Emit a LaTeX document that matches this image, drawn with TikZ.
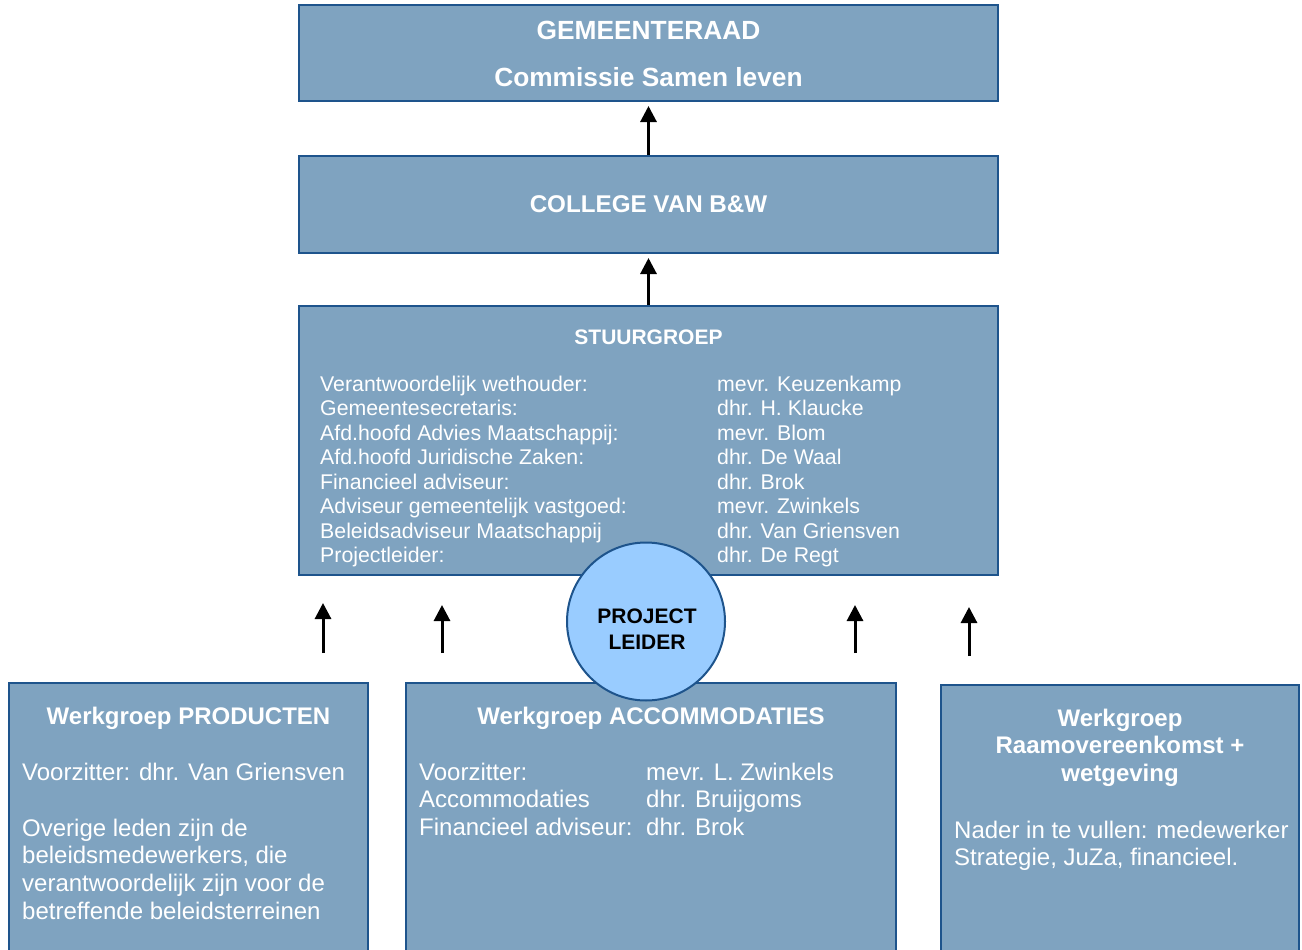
\documentclass[tikz,border=0pt]{standalone}
\usepackage{fontspec}
\setmainfont{Liberation Sans}
\usetikzlibrary{arrows.meta}
\definecolor{boxfill}{RGB}{127,163,192}
\definecolor{boxline}{RGB}{30,84,140}
\definecolor{leiderfill}{RGB}{153,204,255}
\begin{document}
\begin{tikzpicture}[x=1pt,y=-1pt,
  box/.style={draw=boxline,line width=2pt,fill=boxfill,inner sep=0pt},
  txt/.style={text=white,inner sep=0pt,anchor=base},
  lft/.style={text=white,inner sep=0pt,anchor=base west,font=\fontsize{24}{28}\selectfont},
  sg/.style={text=white,inner sep=0pt,anchor=base west,font=\fontsize{21.3}{24.5}\selectfont},
  up/.style={line width=3pt,-{Triangle[length=16pt,width=16pt]}}]
\useasboundingbox (0,0) rectangle (1302,950);
\clip (0,0) rectangle (1302,950);
% boxes
\node[box,minimum width=699pt,minimum height=96pt] (raad) at (648.5,53) {};
\node[box,minimum width=699pt,minimum height=97pt] (college) at (648.5,204.5) {};
\node[box,minimum width=699pt,minimum height=269pt] (stuur) at (648.5,440.5) {};
\node[box,minimum width=359pt,minimum height=277pt] (prod) at (188.5,821.5) {};
\node[box,minimum width=490pt,minimum height=277pt] (acco) at (651,821.5) {};
\node[box,minimum width=358pt,minimum height=275pt] (raam) at (1120,822.5) {};
% arrows
\draw[up,shorten >=4pt] (college.north) -- (raad.south);
\draw[up,shorten >=4pt] (stuur.north) -- (college.south);
\coordinate (p1) at (323,653);
\coordinate (q1) at (323,603);
\coordinate (p2) at (442,653);
\coordinate (q2) at (442,605);
\coordinate (p3) at (855,653);
\coordinate (q3) at (855,605);
\coordinate (p4) at (969,656);
\coordinate (q4) at (969,607);
\draw[up] (p1) -- (q1);
\draw[up] (p2) -- (q2);
\draw[up] (p3) -- (q3);
\draw[up] (p4) -- (q4);
% gemeenteraad, college
\node[txt,font=\bfseries\fontsize{26.3}{30}\selectfont] (raad1) at (648.5,40) {GEMEENTERAAD};
\node[txt,font=\bfseries\fontsize{26.3}{30}\selectfont] (raad2) at (648.5,87) {Commissie Samen leven};
\node[txt,font=\bfseries\fontsize{24.2}{28}\selectfont] (coll1) at (648.5,212.5) {COLLEGE VAN B\&W};
% stuurgroep
\node[txt,font=\bfseries\fontsize{21}{25}\selectfont] (sgtitle) at (648.5,344) {STUURGROEP};
\node[sg] (sgl1) at (320,391) {Verantwoordelijk wethouder:};
\node[sg] (sgl2) at (320,415.5) {Gemeentesecretaris:};
\node[sg] (sgl3) at (320,440) {Afd.hoofd Advies Maatschappij:};
\node[sg] (sgl4) at (320,464.5) {Afd.hoofd Juridische Zaken:};
\node[sg] (sgl5) at (320,489) {Financieel adviseur:};
\node[sg] (sgl6) at (320,513.5) {Adviseur gemeentelijk vastgoed:};
\node[sg] (sgl7) at (320,538) {Beleidsadviseur Maatschappij};
\node[sg] (sgl8) at (320,562.5) {Projectleider:};
\node[sg] (sgr1) at (717,391) {mevr. Keuzenkamp};
\node[sg] (sgr2) at (717,415.5) {dhr. H. Klaucke};
\node[sg] (sgr3) at (717,440) {mevr. Blom};
\node[sg] (sgr4) at (717,464.5) {dhr. De Waal};
\node[sg] (sgr5) at (717,489) {dhr. Brok};
\node[sg] (sgr6) at (717,513.5) {mevr. Zwinkels};
\node[sg] (sgr7) at (717,538) {dhr. Van Griensven};
\node[sg] (sgr8) at (717,562.5) {dhr. De Regt};
% projectleider, on top of stuurgroep and accommodaties
\node[circle,draw=boxline,line width=2pt,fill=leiderfill,minimum size=158pt,inner sep=0pt] (leider) at (646,621.5) {};
\node[txt,text=black,font=\bfseries\fontsize{21}{25}\selectfont] (lei1) at (647,623) {PROJECT};
\node[txt,text=black,font=\bfseries\fontsize{21}{25}\selectfont] (lei2) at (647,649) {LEIDER};
% werkgroep producten
\node[txt,font=\bfseries\fontsize{24}{28}\selectfont] (prtitle) at (188.5,724) {Werkgroep PRODUCTEN};
\node[lft] (pr1) at (22,780) {Voorzitter: dhr. Van Griensven};
\node[lft] (pr2) at (22,836) {Overige leden zijn de};
\node[lft] (pr3) at (22,863.7) {beleidsmedewerkers, die};
\node[lft] (pr4) at (22,891.4) {verantwoordelijk zijn voor de};
\node[lft] (pr5) at (22,919) {betreffende beleidsterreinen};
% werkgroep accommodaties
\node[txt,font=\bfseries\fontsize{24}{28}\selectfont] (actitle) at (651,724) {Werkgroep ACCOMMODATIES};
\node[lft] (acl1) at (419,780) {Voorzitter:};
\node[lft] (acl2) at (419,807.5) {Accommodaties};
\node[lft] (acl3) at (419,835) {Financieel adviseur:};
\node[lft] (acr1) at (646,780) {mevr. L. Zwinkels};
\node[lft] (acr2) at (646,807.5) {dhr. Bruijgoms};
\node[lft] (acr3) at (646,835) {dhr. Brok};
% werkgroep raamovereenkomst
\node[txt,font=\bfseries\fontsize{24}{28}\selectfont] (ratitle1) at (1120,726) {Werkgroep};
\node[txt,font=\bfseries\fontsize{24}{28}\selectfont] (ratitle2) at (1120,753.7) {Raamovereenkomst +};
\node[txt,font=\bfseries\fontsize{24}{28}\selectfont] (ratitle3) at (1120,781.4) {wetgeving};
\node[lft] (ra1) at (954,838) {Nader in te vullen: medewerker};
\node[lft] (ra2) at (954,865.5) {Strategie, JuZa, financieel.};
\end{tikzpicture}
\end{document}
